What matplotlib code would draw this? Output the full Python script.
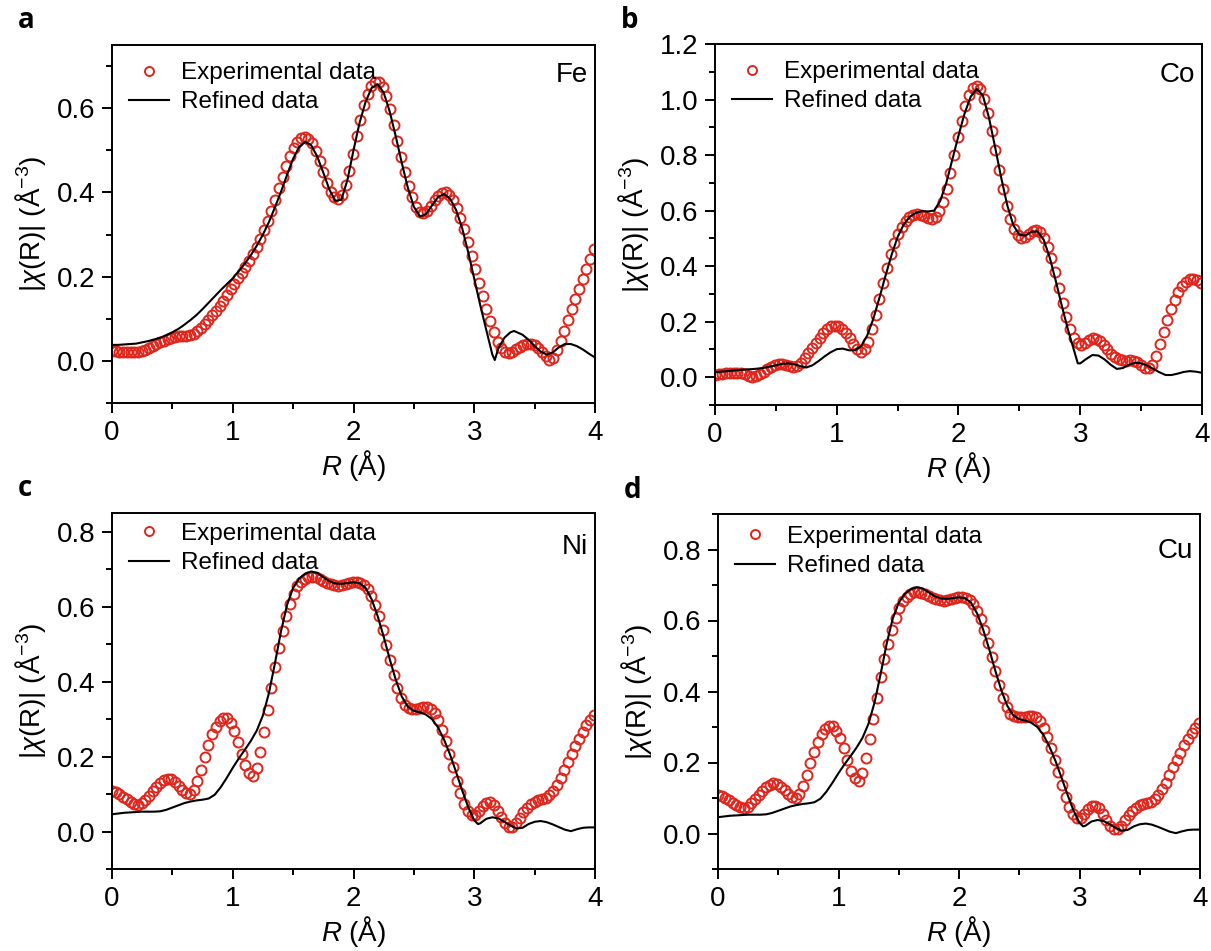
import numpy as np
import matplotlib
matplotlib.use("Agg")
import matplotlib.pyplot as plt
from matplotlib.ticker import MultipleLocator

plt.rcParams['font.family'] = ['Liberation Sans', 'DejaVu Sans']
plt.rcParams['mathtext.fontset'] = 'custom'
plt.rcParams['mathtext.rm'] = 'Liberation Sans'
plt.rcParams['mathtext.it'] = 'Liberation Sans:italic'
plt.rcParams['mathtext.bf'] = 'Liberation Sans:bold'

# ---------------- data ----------------
# experimental R grid (Å)
R_exp = np.round(np.arange(131) * 0.0307, 4)

fe_exp = [0.024, 0.023, 0.022, 0.022, 0.021, 0.021, 0.021, 0.022, 0.024, 0.027,
          0.031, 0.035, 0.040, 0.044, 0.047, 0.051, 0.054, 0.056, 0.058, 0.059,
          0.060, 0.061, 0.064, 0.071, 0.079, 0.088, 0.098, 0.108, 0.119, 0.130,
          0.143, 0.157, 0.170, 0.183, 0.196, 0.209, 0.223, 0.237, 0.254, 0.271,
          0.290, 0.310, 0.332, 0.356, 0.382, 0.410, 0.437, 0.463, 0.487, 0.506,
          0.520, 0.529, 0.532, 0.528, 0.517, 0.499, 0.475, 0.448, 0.422, 0.401,
          0.388, 0.385, 0.394, 0.418, 0.452, 0.492, 0.533, 0.572, 0.607, 0.634,
          0.652, 0.661, 0.661, 0.650, 0.628, 0.598, 0.561, 0.522, 0.485, 0.449,
          0.416, 0.388, 0.366, 0.353, 0.350, 0.356, 0.368, 0.381, 0.392, 0.399,
          0.400, 0.395, 0.383, 0.364, 0.340, 0.312, 0.282, 0.250, 0.218, 0.185,
          0.153, 0.122, 0.094, 0.068, 0.046, 0.030, 0.021, 0.019, 0.022, 0.028,
          0.034, 0.038, 0.040, 0.040, 0.037, 0.031, 0.022, 0.011, 0.002, 0.008,
          0.025, 0.047, 0.072, 0.097, 0.122, 0.147, 0.171, 0.195, 0.219, 0.243,
          0.265]

fe_fit_r = [0.00, 0.05, 0.10, 0.15, 0.20, 0.25, 0.30, 0.35, 0.40, 0.45, 0.50, 0.55,
            0.60, 0.65, 0.70, 0.75, 0.80, 0.85, 0.90, 0.95, 1.00, 1.05, 1.10, 1.15,
            1.20, 1.25, 1.30, 1.35, 1.40, 1.45, 1.50, 1.55, 1.60, 1.65, 1.70, 1.75,
            1.80, 1.85, 1.90, 1.95, 2.00, 2.05, 2.10, 2.15, 2.20, 2.25, 2.30, 2.35,
            2.40, 2.45, 2.50, 2.55, 2.60, 2.65, 2.70, 2.75, 2.80, 2.85, 2.90, 2.95,
            3.00, 3.05, 3.10, 3.15, 3.17, 3.20, 3.25, 3.30, 3.33, 3.40, 3.45, 3.50,
            3.55, 3.60, 3.65, 3.70, 3.75, 3.80, 3.85, 3.90, 3.95, 4.00]
fe_fit = [0.038, 0.038, 0.039, 0.040, 0.041, 0.044, 0.047, 0.051, 0.055, 0.061, 0.068, 0.076,
          0.086, 0.097, 0.109, 0.123, 0.138, 0.153, 0.168, 0.182, 0.196, 0.213, 0.231, 0.251,
          0.274, 0.300, 0.330, 0.365, 0.402, 0.442, 0.480, 0.508, 0.520, 0.512, 0.485, 0.447,
          0.407, 0.380, 0.383, 0.430, 0.500, 0.565, 0.615, 0.648, 0.657, 0.637, 0.592, 0.533,
          0.470, 0.411, 0.366, 0.343, 0.348, 0.369, 0.389, 0.396, 0.385, 0.358, 0.315, 0.258,
          0.195, 0.132, 0.073, 0.015, 0.002, 0.030, 0.055, 0.068, 0.071, 0.062, 0.050, 0.035,
          0.022, 0.015, 0.020, 0.032, 0.040, 0.040, 0.035, 0.027, 0.017, 0.008]

co_exp = [0.008, 0.010, 0.012, 0.014, 0.016, 0.017, 0.017, 0.015, 0.010, 0.004,
          0.001, 0.004, 0.012, 0.020, 0.029, 0.037, 0.043, 0.047, 0.047, 0.044,
          0.040, 0.037, 0.040, 0.052, 0.068, 0.086, 0.105, 0.124, 0.143, 0.160,
          0.174, 0.183, 0.186, 0.183, 0.174, 0.160, 0.141, 0.120, 0.102, 0.092,
          0.100, 0.128, 0.172, 0.225, 0.282, 0.340, 0.395, 0.444, 0.485, 0.517,
          0.542, 0.562, 0.576, 0.584, 0.587, 0.585, 0.579, 0.573, 0.571, 0.578,
          0.598, 0.632, 0.679, 0.737, 0.800, 0.864, 0.924, 0.977, 1.018, 1.043,
          1.050, 1.037, 1.003, 0.952, 0.888, 0.817, 0.745, 0.677, 0.618, 0.569,
          0.533, 0.511, 0.503, 0.505, 0.515, 0.526, 0.530, 0.522, 0.502, 0.470,
          0.428, 0.378, 0.323, 0.268, 0.216, 0.172, 0.140, 0.122, 0.117, 0.124,
          0.134, 0.140, 0.139, 0.130, 0.116, 0.100, 0.085, 0.073, 0.065, 0.061,
          0.060, 0.061, 0.060, 0.055, 0.045, 0.035, 0.032, 0.045, 0.076, 0.118,
          0.163, 0.206, 0.244, 0.278, 0.306, 0.328, 0.343, 0.352, 0.355, 0.350,
          0.338]

co_fit_r = [0.00, 0.05, 0.10, 0.15, 0.20, 0.25, 0.30, 0.35, 0.40, 0.45, 0.50, 0.55,
            0.60, 0.65, 0.70, 0.75, 0.80, 0.85, 0.90, 0.95, 1.00, 1.05, 1.10, 1.15,
            1.20, 1.25, 1.30, 1.35, 1.40, 1.45, 1.50, 1.55, 1.60, 1.65, 1.70, 1.75,
            1.80, 1.85, 1.90, 1.95, 2.00, 2.05, 2.10, 2.15, 2.20, 2.25, 2.30, 2.35,
            2.40, 2.45, 2.50, 2.55, 2.60, 2.65, 2.70, 2.75, 2.80, 2.85, 2.90, 2.95,
            2.98, 3.00, 3.05, 3.10, 3.15, 3.20, 3.25, 3.30, 3.35, 3.40, 3.45, 3.50,
            3.55, 3.60, 3.65, 3.70, 3.75, 3.80, 3.85, 3.90, 3.95, 4.00]
co_fit = [0.018, 0.020, 0.022, 0.024, 0.026, 0.028, 0.029, 0.031, 0.034, 0.038, 0.043, 0.048,
          0.050, 0.047, 0.040, 0.035, 0.043, 0.058, 0.075, 0.090, 0.101, 0.103, 0.097, 0.097,
          0.112, 0.150, 0.210, 0.285, 0.365, 0.440, 0.505, 0.550, 0.578, 0.592, 0.598, 0.597,
          0.600, 0.635, 0.700, 0.785, 0.870, 0.950, 1.010, 1.038, 1.015, 0.935, 0.830, 0.720,
          0.620, 0.548, 0.513, 0.510, 0.524, 0.525, 0.495, 0.430, 0.345, 0.255, 0.170, 0.095,
          0.050, 0.050, 0.066, 0.080, 0.078, 0.064, 0.045, 0.030, 0.033, 0.045, 0.052, 0.050,
          0.042, 0.030, 0.018, 0.008, 0.008, 0.013, 0.019, 0.022, 0.020, 0.016]

ni_exp = [0.108, 0.106, 0.100, 0.093, 0.086, 0.079, 0.074, 0.072, 0.076, 0.085,
          0.096, 0.108, 0.120, 0.130, 0.138, 0.141, 0.139, 0.132, 0.122, 0.111,
          0.102, 0.100, 0.110, 0.134, 0.164, 0.198, 0.230, 0.259, 0.280, 0.295,
          0.303, 0.302, 0.290, 0.268, 0.240, 0.208, 0.177, 0.155, 0.148, 0.170,
          0.213, 0.265, 0.323, 0.383, 0.440, 0.491, 0.535, 0.574, 0.607, 0.634,
          0.654, 0.667, 0.675, 0.679, 0.680, 0.678, 0.674, 0.669, 0.664, 0.660,
          0.657, 0.656, 0.657, 0.660, 0.663, 0.665, 0.666, 0.664, 0.658, 0.646,
          0.628, 0.604, 0.574, 0.538, 0.498, 0.458, 0.418, 0.383, 0.355, 0.338,
          0.330, 0.327, 0.327, 0.329, 0.331, 0.332, 0.328, 0.317, 0.298, 0.272,
          0.242, 0.208, 0.172, 0.136, 0.102, 0.074, 0.054, 0.044, 0.045, 0.055,
          0.068, 0.077, 0.078, 0.071, 0.056, 0.038, 0.022, 0.012, 0.012, 0.022,
          0.037, 0.052, 0.064, 0.073, 0.079, 0.083, 0.086, 0.090, 0.097, 0.108,
          0.124, 0.143, 0.164, 0.186, 0.207, 0.228, 0.248, 0.266, 0.283, 0.298,
          0.311]

ni_fit_r = [0.00, 0.05, 0.10, 0.15, 0.20, 0.25, 0.30, 0.35, 0.40, 0.45, 0.50, 0.55,
            0.60, 0.65, 0.70, 0.75, 0.80, 0.85, 0.90, 0.95, 1.00, 1.05, 1.10, 1.15,
            1.20, 1.25, 1.30, 1.35, 1.40, 1.45, 1.50, 1.55, 1.60, 1.65, 1.70, 1.75,
            1.80, 1.85, 1.90, 1.95, 2.00, 2.05, 2.10, 2.15, 2.20, 2.25, 2.30, 2.35,
            2.40, 2.45, 2.50, 2.55, 2.60, 2.65, 2.70, 2.75, 2.80, 2.85, 2.90, 2.95,
            3.00, 3.03, 3.05, 3.10, 3.15, 3.20, 3.25, 3.30, 3.35, 3.40, 3.45, 3.50,
            3.55, 3.60, 3.65, 3.70, 3.75, 3.80, 3.85, 3.90, 3.95, 4.00]
ni_fit = [0.046, 0.048, 0.050, 0.051, 0.052, 0.053, 0.053, 0.053, 0.054, 0.058, 0.064, 0.070,
          0.076, 0.080, 0.083, 0.085, 0.088, 0.098, 0.118, 0.143, 0.170, 0.195, 0.218, 0.242,
          0.270, 0.310, 0.370, 0.450, 0.535, 0.605, 0.650, 0.675, 0.688, 0.694, 0.690, 0.679,
          0.668, 0.662, 0.661, 0.663, 0.665, 0.663, 0.650, 0.620, 0.575, 0.520, 0.460, 0.405,
          0.360, 0.333, 0.322, 0.318, 0.312, 0.300, 0.278, 0.245, 0.205, 0.158, 0.110, 0.065,
          0.030, 0.020, 0.022, 0.034, 0.038, 0.035, 0.026, 0.016, 0.008, 0.010, 0.020, 0.026,
          0.028, 0.025, 0.019, 0.012, 0.005, 0.001, 0.006, 0.010, 0.011, 0.011]

# Cu panel shows the same curves as the Ni panel
cu_exp = list(ni_exp)
cu_fit_r = list(ni_fit_r)
cu_fit = list(ni_fit)

panel_letters = ['a', 'b', 'c', 'd']
elements = ['Fe', 'Co', 'Ni', 'Cu']
exp_series = [fe_exp, co_exp, ni_exp, cu_exp]
fit_r_series = [fe_fit_r, co_fit_r, ni_fit_r, cu_fit_r]
fit_series = [fe_fit, co_fit, ni_fit, cu_fit]
ylims = [(-0.1, 0.75), (-0.1, 1.2), (-0.1, 0.85), (-0.1, 0.9)]

# ---------------- layout ----------------
W, H = 1211, 951
fig = plt.figure(figsize=(W / 100, H / 100), dpi=100)

# axes boxes in pixels: left, right, top, bottom
boxes = [(112, 595, 45, 403), (715, 1202, 44, 405),
         (112, 595, 513, 869), (718, 1200, 514, 869)]
legend_anchor_y = [1.0, 1.0, 1.02, 1.015]
elem_y = [0.915, 0.915, 0.905, 0.895]

red = '#e0261c'
for k in range(4):
    l, r, t, b = boxes[k]
    ax = fig.add_axes([l / W, 1 - b / H, (r - l) / W, (b - t) / H])
    ax.plot(R_exp, exp_series[k], linestyle='none', marker='o', ms=7.2,
            mfc='none', mec=red, mew=1.4, label='Experimental data', zorder=2)
    ax.plot(fit_r_series[k], fit_series[k], color='black', lw=1.5,
            label='Refined data', zorder=3)
    ax.set_xlim(0, 4)
    ax.set_ylim(*ylims[k])
    ax.xaxis.set_major_locator(MultipleLocator(1))
    ax.xaxis.set_minor_locator(MultipleLocator(0.5))
    ax.yaxis.set_major_locator(MultipleLocator(0.2))
    ax.yaxis.set_minor_locator(MultipleLocator(0.1))
    ax.yaxis.set_major_formatter(matplotlib.ticker.FormatStrFormatter('%.1f'))
    ax.tick_params(which='major', direction='out', length=7, width=1.4,
                   labelsize=20, pad=5)
    ax.tick_params(which='minor', direction='out', length=4, width=1.4)
    for s in ax.spines.values():
        s.set_linewidth(1.4)
    ax.set_xlabel(r'$R$ (Å)', fontsize=20, labelpad=2)
    ax.set_ylabel(r'|$\chi$(R)| (Å$^{\mathrm{-3}}$)', fontsize=20, labelpad=6)
    ax.legend(loc='upper left', bbox_to_anchor=(0.0, legend_anchor_y[k]),
              frameon=False, fontsize=17.5, handlelength=1.65,
              handletextpad=0.5, labelspacing=0.3, borderaxespad=0.3,
              numpoints=1, markerscale=0.9)
    ax.text(0.985, elem_y[k], elements[k], transform=ax.transAxes,
            ha='right', va='center', fontsize=20)
    fig.text((l - 94) / W, 1 - (t - 24) / H, panel_letters[k],
             fontsize=20, fontweight='bold', family=['Open Sans', 'DejaVu Sans'],
             ha='left', va='center')

fig.savefig('out.png', dpi=100)
